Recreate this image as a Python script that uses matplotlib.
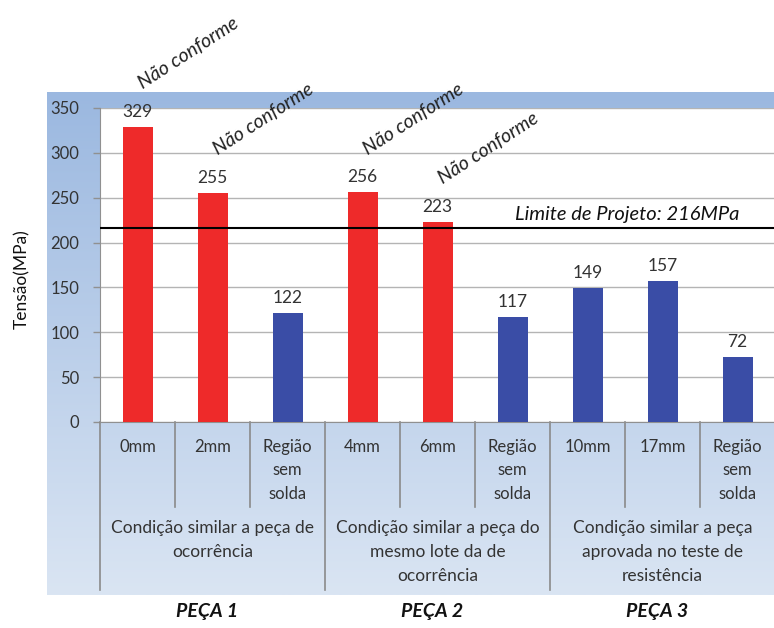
import matplotlib
matplotlib.use("Agg")
import matplotlib.pyplot as plt
import numpy as np
from matplotlib.transforms import blended_transform_factory

plt.rcParams['font.family'] = ['Lato', 'DejaVu Sans']

categories = ["0mm", "2mm", "Região\nsem\nsolda", "4mm", "6mm", "Região\nsem\nsolda",
              "10mm", "17mm", "Região\nsem\nsolda"]
values = [329, 255, 122, 256, 223, 117, 149, 157, 72]
conforme = [False, False, True, False, False, True, True, True, True]
groups = ["Condição similar a peça de\nocorrência",
          "Condição similar a peça do\nmesmo lote da de\nocorrência",
          "Condição similar a peça\naprovada no teste de\nresistência"]
pecas = ["PEÇA 1", "PEÇA 2", "PEÇA 3"]
limit_value = 216
limit_text = "Limite de Projeto: 216MPa"
nc_text = "Não conforme"
yticks = [0, 50, 100, 150, 200, 250, 300, 350]

RED = "#EE2A2A"
BLUE = "#3A4DA6"
TXT = "#333333"

W, H = 774, 628
fig = plt.figure(figsize=(W / 100, H / 100), dpi=100)

# gradient background panel
bg = fig.add_axes([47 / W, 1 - 595 / H, (W - 47) / W, 503 / H])
top = np.array([0x9B, 0xB8, 0xE0]) / 255
bot = np.array([0xDA, 0xE5, 0xF3]) / 255
t = np.linspace(0, 1, 256)[:, None]
grad = (top[None, :] * (1 - t) + bot[None, :] * t)[:, None, :]
bg.imshow(grad, aspect='auto', extent=[0, 1, 0, 1], interpolation='bilinear')
bg.set_axis_off()

ax = fig.add_axes([100 / W, 1 - 422 / H, 675 / W, 314 / H])
ax.set_facecolor("white")
x = np.arange(len(categories))
colors = [BLUE if c else RED for c in conforme]
ax.bar(x, values, width=0.4, color=colors, zorder=3)
ax.set_xlim(-0.5, len(categories) - 0.5)
ax.set_ylim(0, 350)
ax.set_yticks(yticks)
ax.set_yticklabels([str(v) for v in yticks], fontsize=12, color=TXT)
ax.tick_params(axis='y', length=5, width=1, color="#909090", pad=10)
ax.set_xticks([])
ax.grid(axis='y', color="#B4B4B4", lw=1, zorder=0)
for s in ["top", "right"]:
    ax.spines[s].set_visible(False)
ax.spines["left"].set_color("#909090")
ax.spines["bottom"].set_color("#909090")

for xi, v in zip(x, values):
    ax.annotate(str(v), (xi, v), xytext=(0, 5), textcoords="offset points",
                ha="center", va="bottom", fontsize=12.5, color=TXT)

for xi, v, c in zip(x, values, conforme):
    if not c:
        ax.annotate(nc_text, (xi, v), xytext=(4, 27), textcoords="offset points",
                    ha="left", va="baseline", rotation=33, rotation_mode="anchor",
                    fontsize=14, style="italic", color="#222222", annotation_clip=False)

ax.axhline(limit_value, color="black", lw=1.5, zorder=4)
ax.annotate(limit_text, (5.0, limit_value), xytext=(2, 4), textcoords="offset points",
            ha="left", va="bottom", fontsize=14.5, style="italic", color="#111111")

ax.set_ylabel("Tensão(MPa)", fontsize=12.5, color="#111111")
ax.yaxis.set_label_coords(-0.104, 0.455)

tr = blended_transform_factory(ax.transData, ax.transAxes)
for k in range(len(categories) + 1):
    depth = -0.535 if k % 3 == 0 else -0.271
    ax.plot([k - 0.5, k - 0.5], [0, depth], transform=tr, color="#8A8A8A", lw=1.2,
            clip_on=False)
for xi, lab in zip(x, categories):
    ax.text(xi, -0.055, lab, transform=tr, ha="center", va="top", fontsize=12,
            color=TXT, linespacing=1.55)
for g, lab in enumerate(groups):
    ax.text(3 * g + 1, -0.312, lab, transform=tr, ha="center", va="top", fontsize=12.5,
            color=TXT, linespacing=1.6)
for g, lab in enumerate(pecas):
    ax.text(3 * g + 0.93, -0.605, lab, transform=tr, ha="center", va="center",
            fontsize=14, fontweight="bold", style="italic", color="#111111")

fig.savefig("out.png", dpi=100)
